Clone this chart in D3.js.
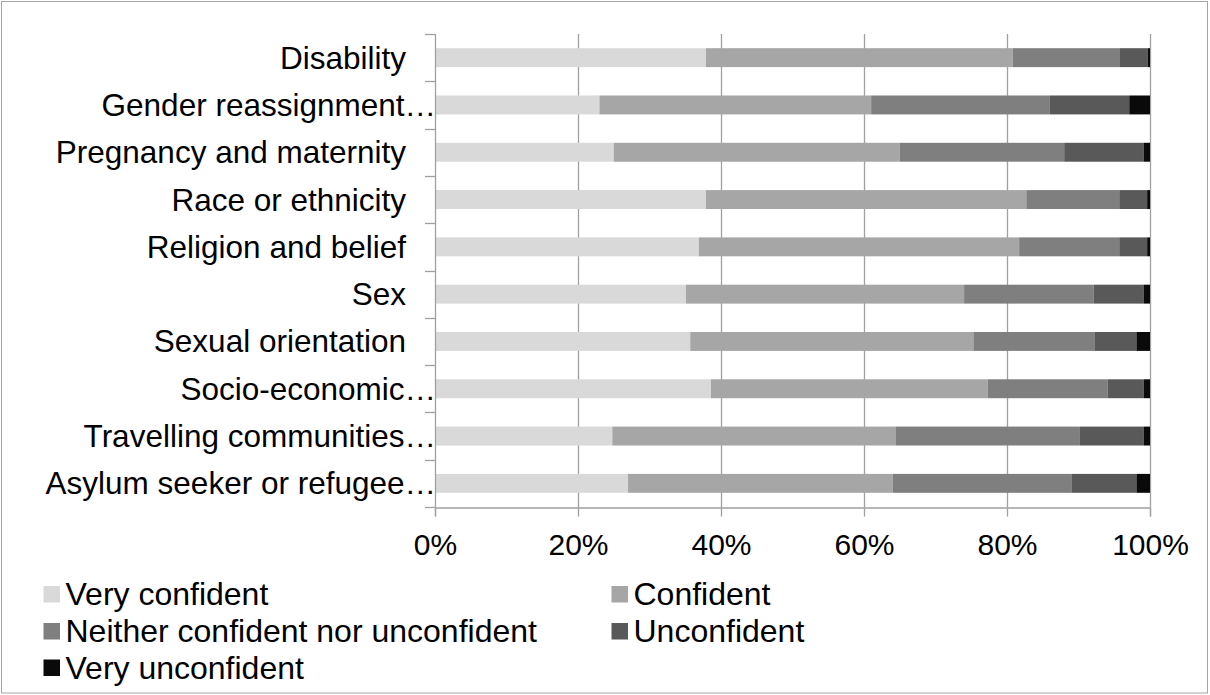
<!DOCTYPE html>
<html>
<head>
<meta charset="utf-8">
<script src="https://cdn.jsdelivr.net/npm/d3@7"></script>
<style>
  html, body { margin: 0; padding: 0; background: #fff; }
  svg { display: block; font-family: "Liberation Sans", Arial, sans-serif; }
</style>
</head>
<body>
<svg id="chart" width="1210" height="695"></svg>
<script>
const categories = [
  "Disability",
  "Gender reassignment…",
  "Pregnancy and maternity",
  "Race or ethnicity",
  "Religion and belief",
  "Sex",
  "Sexual orientation",
  "Socio-economic…",
  "Travelling communities…",
  "Asylum seeker or refugee…"
];
const seriesNames = ["Very confident", "Confident", "Neither confident nor unconfident", "Unconfident", "Very unconfident"];
const veryConfident   = [37.9, 23.0, 25.0, 37.9, 36.9, 35.1, 35.7, 38.6, 24.8, 27.0];
const confident       = [42.9, 38.0, 40.0, 44.8, 44.8, 38.9, 39.6, 38.7, 39.6, 37.0];
const neither         = [15.0, 25.0, 23.0, 13.0, 14.0, 18.1, 17.0, 16.8, 25.8, 25.0];
const unconfident     = [ 3.9, 11.1, 11.1,  3.9,  3.9,  7.0,  5.8,  5.0,  8.9,  9.1];
const veryUnconfident = [ 0.3,  2.9,  0.9,  0.4,  0.4,  0.9,  1.9,  0.9,  0.9,  1.9];
const seriesColors = ["#d9d9d9", "#a6a6a6", "#7f7f7f", "#595959", "#0a0a0a"];
const tickValues = [0, 0.2, 0.4, 0.6, 0.8, 1.0];

const seriesValues = [veryConfident, confident, neither, unconfident, veryUnconfident];
const rows = categories.map((c, i) => {
  const r = { category: c };
  seriesNames.forEach((s, j) => r[s] = seriesValues[j][i]);
  return r;
});

const svg = d3.select("#chart");
const CAT_FONT = 31.5;
const TICK_FONT = 30;
const LEG_FONT = 32;

// outer border
svg.append("rect")
  .attr("x", 1.5).attr("y", 1.5).attr("width", 1206).attr("height", 691.5)
  .attr("fill", "none").attr("stroke", "#a6a6a6").attr("stroke-width", 1);

const plot = { left: 435, right: 1150, top: 34, bottom: 507 };

const x = d3.scaleLinear().domain([0, 1]).range([plot.left, plot.right]);
const y = d3.scaleBand().domain(categories).range([plot.top, plot.bottom])
  .paddingInner(0.6).paddingOuter(0.3);

const stack = d3.stack().keys(seriesNames).offset(d3.stackOffsetExpand);
const stacked = stack(rows);

// gridlines
svg.append("g").selectAll("line")
  .data(tickValues.filter(t => t > 0))
  .join("line")
  .attr("x1", d => Math.round(x(d)) + 0.5).attr("x2", d => Math.round(x(d)) + 0.5)
  .attr("y1", plot.top).attr("y2", plot.bottom)
  .attr("stroke", "#a0a0a0").attr("stroke-width", 1.3);

// bars
svg.append("g").selectAll("g")
  .data(stacked)
  .join("g")
  .attr("fill", (d, i) => seriesColors[i])
  .selectAll("rect")
  .data(d => d)
  .join("rect")
  .attr("x", d => x(d[0]))
  .attr("width", d => x(d[1]) - x(d[0]))
  .attr("y", d => y(d.data.category))
  .attr("height", y.bandwidth());

// x axis
const xAxis = d3.axisBottom(x).tickValues(tickValues).tickFormat(d3.format(".0%")).tickSize(9).tickPadding(17);
const gx = svg.append("g").attr("transform", `translate(0,${plot.bottom + 0.5})`).call(xAxis);
gx.select(".domain").attr("stroke", "#a0a0a0").attr("stroke-width", 1.3);
gx.selectAll(".tick line").attr("stroke", "#a0a0a0").attr("stroke-width", 1.3);
gx.selectAll(".tick text").attr("font-size", TICK_FONT).attr("fill", "#000")
  .attr("font-family", "Liberation Sans, Arial, sans-serif");

// y axis: line + ticks at band boundaries
const boundaries = d3.range(categories.length + 1).map(i => plot.top + i * y.step());
svg.append("line")
  .attr("x1", plot.left + 0.5).attr("x2", plot.left + 0.5)
  .attr("y1", plot.top).attr("y2", plot.bottom)
  .attr("stroke", "#a0a0a0").attr("stroke-width", 1.3);
svg.append("g").selectAll("line")
  .data(boundaries)
  .join("line")
  .attr("x1", plot.left - 10).attr("x2", plot.left)
  .attr("y1", d => Math.round(d) + 0.5).attr("y2", d => Math.round(d) + 0.5)
  .attr("stroke", "#a0a0a0").attr("stroke-width", 1.3);

// category labels
svg.append("g").selectAll("text")
  .data(categories)
  .join("text")
  .attr("x", d => d.endsWith("…") ? plot.left + 1 : 406)
  .attr("y", d => y(d) + y.bandwidth() / 2)
  .attr("dy", "0.35em")
  .attr("text-anchor", "end")
  .attr("font-size", CAT_FONT)
  .attr("fill", "#000")
  .text(d => d);

// legend
const legendPos = [
  { x: 43.5, y: 594 }, { x: 611.5, y: 594 },
  { x: 43.5, y: 631 }, { x: 611.5, y: 631 },
  { x: 43.5, y: 667.5 }
];
const lg = svg.append("g").selectAll("g")
  .data(seriesNames)
  .join("g")
  .attr("transform", (d, i) => `translate(${legendPos[i].x},${legendPos[i].y})`);
lg.append("rect")
  .attr("x", 0).attr("y", -8).attr("width", 16.5).attr("height", 16.5)
  .attr("fill", (d, i) => seriesColors[i]);
lg.append("text")
  .attr("x", 22).attr("y", 0).attr("dy", "0.35em")
  .attr("font-size", LEG_FONT).attr("fill", "#000")
  .text(d => d);
</script>
</body>
</html>
